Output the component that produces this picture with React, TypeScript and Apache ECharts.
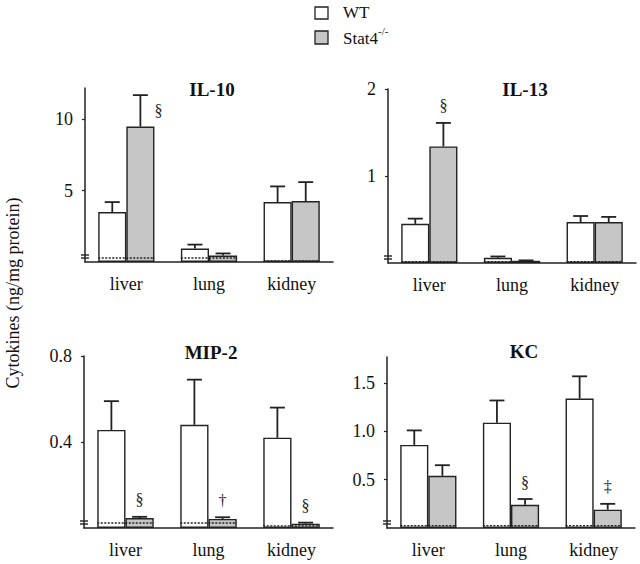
import React, { useEffect, useRef } from 'react';
import * as echarts from 'echarts';

const categories = ['liver', 'lung', 'kidney'];

// IL-10
const il10WT = [3.5, 0.94, 4.2];
const il10WTErr = [4.2, 1.22, 5.3];
const il10KO = [9.5, 0.45, 4.27];
const il10KOErr = [11.7, 0.6, 5.6];
const il10Marks = ['§', '', ''];
const il10Limit = [0.28, 0.28, 0.07];
const il10Ticks = [5, 10];

// IL-13
const il13WT = [0.45, 0.06, 0.47];
const il13WTErr = [0.51, 0.075, 0.54];
const il13KO = [1.34, 0.025, 0.47];
const il13KOErr = [1.61, 0.03, 0.53];
const il13Marks = ['§', '', ''];
const il13Limit = [0.015, 0.015, 0.015];
const il13Ticks = [1, 2];

// MIP-2
const mip2WT = [0.456, 0.48, 0.42];
const mip2WTErr = [0.59, 0.69, 0.56];
const mip2KO = [0.046, 0.042, 0.02];
const mip2KOErr = [0.052, 0.05, 0.025];
const mip2Marks = ['§', '†', '§'];
const mip2Limit = [0.023, 0.023, 0.01];
const mip2Ticks = [0.4, 0.8];

// KC
const kcWT = [0.86, 1.09, 1.34];
const kcWTErr = [1.01, 1.32, 1.57];
const kcKO = [0.54, 0.24, 0.19];
const kcKOErr = [0.65, 0.3, 0.25];
const kcMarks = ['', '§', '‡'];
const kcLimit = [0.025, 0.025, 0.025];
const kcTicks = [0.5, 1.0, 1.5];

const panels = [
  { title: 'IL-10', wt: il10WT, wtErr: il10WTErr, ko: il10KO, koErr: il10KOErr, marks: il10Marks, limit: il10Limit, ticks: il10Ticks, max: 12.2, decimals: 0 },
  { title: 'IL-13', wt: il13WT, wtErr: il13WTErr, ko: il13KO, koErr: il13KOErr, marks: il13Marks, limit: il13Limit, ticks: il13Ticks, max: 2, decimals: 0 },
  { title: 'MIP-2', wt: mip2WT, wtErr: mip2WTErr, ko: mip2KO, koErr: mip2KOErr, marks: mip2Marks, limit: mip2Limit, ticks: mip2Ticks, max: 0.8, decimals: 1 },
  { title: 'KC', wt: kcWT, wtErr: kcWTErr, ko: kcKO, koErr: kcKOErr, marks: kcMarks, limit: kcLimit, ticks: kcTicks, max: 1.77, decimals: 1 },
];

const layouts = [
  { left: 85, top: 88, width: 248, height: 174, titleX: 212, titleY: 89 },
  { left: 388, top: 89, width: 248, height: 174, titleX: 525, titleY: 89 },
  { left: 84, top: 356, width: 249, height: 172, titleX: 211, titleY: 352 },
  { left: 387, top: 357, width: 248, height: 171, titleX: 524, titleY: 351 },
];

const FONT = '"Liberation Serif", "DejaVu Serif", serif';
const INK = '#222';
const GRAY = '#c6c6c6';
const BAR_FRAC = 0.34;

function makeRender(marks: string[]) {
  return (params: any, api: any) => {
    const k = api.value(0);
    const band = api.size([1, 0])[0];
    const bw = band * BAR_FRAC;
    const base = api.coord([k, 0]);
    const cx = base[0];
    const y0 = base[1];
    const cs = params.coordSys;
    const children: any[] = [];
    const groups = [
      { v: api.value(1), e: api.value(2), sign: -1, mark: '' },
      { v: api.value(3), e: api.value(4), sign: 1, mark: marks[k] || '' },
    ];
    groups.forEach((g) => {
      const x = cx + (g.sign * bw) / 2;
      const yv = api.coord([k, g.v])[1];
      const ye = api.coord([k, g.e])[1];
      children.push({ type: 'line', shape: { x1: x, y1: yv, x2: x, y2: ye }, style: { stroke: INK, lineWidth: 1.8 } });
      children.push({ type: 'line', shape: { x1: x - 7.5, y1: ye, x2: x + 7.5, y2: ye }, style: { stroke: INK, lineWidth: 1.8 } });
      if (g.mark) {
        let tx = x;
        let ty = ye - 17;
        if (ty - 8 < cs.y) {
          tx = x + 18;
          ty = ye + 15;
        }
        children.push({
          type: 'text', x: tx, y: ty,
          style: { text: g.mark, font: `16px ${FONT}`, fill: INK, align: 'center', verticalAlign: 'middle' },
        });
      }
    });
    const yl = api.coord([k, api.value(5)])[1];
    children.push({
      type: 'line', shape: { x1: cx - bw, y1: yl, x2: cx + bw, y2: yl },
      style: { stroke: INK, lineWidth: 1.4, lineDash: [2, 1.5] },
    });
    if (params.dataIndex === 0) {
      const ax = cs.x;
      [y0 - 7, y0 - 4].forEach((yy) => {
        children.push({ type: 'line', shape: { x1: ax - 4, y1: yy, x2: ax + 4, y2: yy }, style: { stroke: INK, lineWidth: 1.4 } });
      });
    }
    return { type: 'group', children };
  };
}

export default function App() {
  const ref = useRef<HTMLDivElement>(null);
  useEffect(() => {
    if (!ref.current) return;
    const chart = echarts.init(ref.current, undefined, { renderer: 'svg' });
    const grid = layouts.map((l) => ({ left: l.left, top: l.top, width: l.width, height: l.height, outerBoundsMode: 'none', containLabel: false }));
    const xAxis = panels.map((_, i) => ({
      type: 'category', gridIndex: i, data: categories,
      axisLine: { lineStyle: { color: INK, width: 1.5 } },
      axisTick: { show: false },
      axisLabel: { fontSize: 18, color: '#111', margin: 13, fontFamily: FONT },
    }));
    const yAxis = panels.map((p, i) => ({
      type: 'value', gridIndex: i, min: 0, max: p.max,
      splitLine: { show: false },
      axisLine: { show: true, lineStyle: { color: INK, width: 1.5 } },
      axisTick: { show: true, length: 3, customValues: p.ticks, lineStyle: { color: INK, width: 1.2 } },
      axisLabel: {
        customValues: p.ticks, fontSize: 18, color: '#111', margin: 12, fontFamily: FONT,
        formatter: (v: number) => v.toFixed(p.decimals),
      },
    }));
    const series: any[] = [];
    panels.forEach((p, i) => {
      series.push({
        type: 'bar', name: 'WT', xAxisIndex: i, yAxisIndex: i, data: p.wt,
        barWidth: `${BAR_FRAC * 100}%`, barGap: '0%',
        itemStyle: { color: '#ffffff', borderColor: INK, borderWidth: 1.4 },
      });
      series.push({
        type: 'bar', name: 'Stat4-/-', xAxisIndex: i, yAxisIndex: i, data: p.ko,
        barWidth: `${BAR_FRAC * 100}%`, barGap: '0%',
        itemStyle: { color: GRAY, borderColor: INK, borderWidth: 1.4 },
      });
      series.push({
        type: 'custom', xAxisIndex: i, yAxisIndex: i, z: 5, clip: false,
        encode: { x: 0, y: 1 },
        data: categories.map((_, k) => [k, p.wt[k], p.wtErr[k], p.ko[k], p.koErr[k], p.limit[k]]),
        renderItem: makeRender(p.marks),
      });
    });
    const graphic: any[] = [];
    panels.forEach((p, i) => {
      graphic.push({
        type: 'text', x: layouts[i].titleX, y: layouts[i].titleY,
        style: { text: p.title, font: `bold 19px ${FONT}`, fill: '#111', align: 'center', verticalAlign: 'middle' },
      });
    });
    graphic.push({
      type: 'text', x: 13, y: 293, rotation: Math.PI / 2,
      style: { text: 'Cytokines (ng/mg protein)', font: `18px ${FONT}`, fill: '#111', align: 'center', verticalAlign: 'middle' },
    });
    graphic.push({ type: 'rect', shape: { x: 315, y: 7, width: 13, height: 12 }, style: { fill: '#fff', stroke: INK, lineWidth: 1.3 } });
    graphic.push({ type: 'rect', shape: { x: 315, y: 31, width: 13, height: 13 }, style: { fill: GRAY, stroke: INK, lineWidth: 1.3 } });
    graphic.push({ type: 'text', x: 343, y: 12, style: { text: 'WT', font: `17px ${FONT}`, fill: '#111', align: 'left', verticalAlign: 'middle' } });
    graphic.push({ type: 'text', x: 343, y: 38, style: { text: 'Stat4', font: `17px ${FONT}`, fill: '#111', align: 'left', verticalAlign: 'middle' } });
    graphic.push({ type: 'text', x: 378, y: 31, style: { text: '-/-', font: `11px ${FONT}`, fill: '#111', align: 'left', verticalAlign: 'middle' } });

    chart.setOption({
      animation: false,
      backgroundColor: '#ffffff',
      grid, xAxis, yAxis, series, graphic,
    });
    return () => chart.dispose();
  }, []);
  return <div ref={ref} style={{ position: 'fixed', left: 0, top: 0, width: 640, height: 564, background: '#fff' }} />;
}
